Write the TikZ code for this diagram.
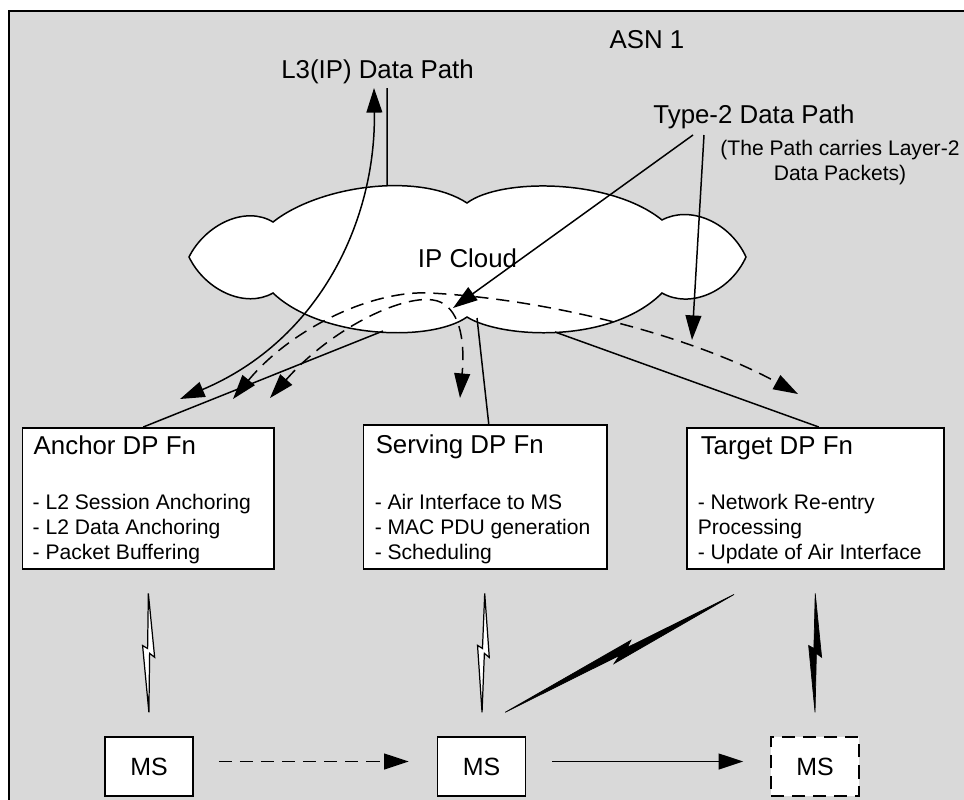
\documentclass[tikz,border=0pt]{standalone}
\usepackage{fontspec}
\setmainfont{Liberation Sans}
\usepackage{tikz}
\usetikzlibrary{arrows.meta,positioning,calc}
\definecolor{AsnGray}{HTML}{D9D9D9}
% radio link bolt: from, to, style, tip offset, notch offset
\newcommand{\radiolink}[5]{%
  \draw[#3] (#1) -- ($(#1)!0.537!(#2)!#4!90:(#2)$) -- ($(#1)!0.504!(#2)!#5!90:(#2)$)
    -- (#2) -- ($(#1)!0.438!(#2)!#4!-90:(#2)$) -- ($(#1)!0.463!(#2)!#5!-90:(#2)$) -- cycle;}

\begin{document}
\begin{tikzpicture}[x=0.2mm,y=-0.2mm,line width=0.85pt,>={Triangle[length=14pt,width=9pt]},
  big/.style={font=\fontsize{14.7}{17}\selectfont,inner sep=0pt},
  small/.style={font=\fontsize{12}{14.2}\selectfont,inner sep=0pt},
  fnbox/.style={draw,fill=white,inner sep=0pt,anchor=north west},
  msbox/.style={draw,fill=white,inner sep=0pt,minimum width=17.6mm,minimum height=11.8mm,
    font=\fontsize{14.2}{17}\selectfont},
  dashline/.style={dash pattern=on 7.5pt off 4.5pt},
  whitebolt/.style={draw,fill=white,line width=0.7pt},
  blackbolt/.style={draw,fill=black,line width=0.4pt}]
  \useasboundingbox (0,0) rectangle (964,799);
  \clip (0,0) rectangle (964,799);
  \draw[fill=AsnGray,line width=1.1pt] (9,11) rectangle (1000,840);

  % IP cloud
  \draw[fill=white] (189,257) .. controls (205,225) and (245,205) .. (273,222)
    .. controls (320,185) and (420,172) .. (467,203)
    .. controls (500,178) and (610,178) .. (662,220)
    .. controls (690,205) and (730,222) .. (746,257)
    .. controls (730,292) and (690,309) .. (662,293)
    .. controls (610,345) and (500,338) .. (467,317)
    .. controls (430,343) and (320,338) .. (273,293)
    .. controls (245,309) and (205,290) .. (189,257) -- cycle;
  \coordinate (cl-top) at (387,185);
  \coordinate (cl-b1) at (383,331);
  \coordinate (cl-b2) at (477,318);
  \coordinate (cl-b3) at (555,332);
  \node[big,anchor=base] (ipc) at (467.5,267) {IP Cloud};

  % labels
  \node[big,anchor=base] (asn) at (647,48) {ASN 1};
  \node[big,anchor=base] (l3) at (377.5,78) {L3(IP) Data Path};
  \node[big,anchor=base] (t2) at (754,123) {Type-2 Data Path};
  \node[small,anchor=base,align=center] (t2note) at (840,180) {(The Path carries Layer-2\\Data Packets)};

  % data path functions
  \node[fnbox,minimum width=50.2mm,minimum height=28.2mm] (anchor) at (22,427) {};
  \node[fnbox,minimum width=48.6mm,minimum height=28.8mm] (serving) at (363,424) {};
  \node[fnbox,minimum width=51.4mm,minimum height=28.2mm] (target) at (686,427) {};
  \node[big,anchor=base west] (anchorT) at ($(anchor.north west)+(11,27)$) {Anchor DP Fn};
  \node[big,anchor=base west] (servingT) at ($(serving.north west)+(12,29)$) {Serving DP Fn};
  \node[big,anchor=base west] (targetT) at ($(target.north west)+(14,27)$) {Target DP Fn};
  \node[small,anchor=base west,align=left] (anchorL) at ($(anchor.north west)+(10,132)$)
    {- L2 Session Anchoring\\- L2 Data Anchoring\\- Packet Buffering};
  \node[small,anchor=base west,align=left] (servingL) at ($(serving.north west)+(11,135)$)
    {- Air Interface to MS\\- MAC PDU generation\\- Scheduling};
  \node[small,anchor=base west,align=left] (targetL) at ($(target.north west)+(11,132)$)
    {- Network Re-entry\\Processing\\- Update of Air Interface};

  % mobile stations
  \node[msbox] (ms1) at (149,766.5) {MS};
  \node[msbox] (ms2) at (481.5,766.5) {MS};
  \node[msbox,dashline] (ms3) at (815,766.5) {MS};
  \draw[->,dashline,shorten <=5mm,shorten >=5.6mm] ([yshift=1mm]ms1.east) -- ([yshift=1mm]ms2.west);
  \draw[->,shorten <=5.2mm,shorten >=5.4mm] ([yshift=1mm]ms2.east) -- ([yshift=1mm]ms3.west);

  % links to the cloud
  \draw ([xshift=-1mm]anchor.north) -- (cl-b1);
  \draw ([xshift=0.7mm]serving.north) -- (cl-b2);
  \draw ([xshift=0.7mm]target.north) -- (cl-b3);
  \coordinate (l3s) at ($(l3.base)+(9.5,10)$);
  \coordinate (l3e) at ($(l3.base)+(-3.5,10)$);
  \draw (l3s) -- (cl-top);
  \coordinate (l3a) at (180,399);
  \draw[<->] (l3a) .. controls (320,340) and (376,220) .. (l3e);

  % type-2 data paths
  \coordinate (dpA1) at (233,399);
  \coordinate (dpA2) at (270,398);
  \coordinate (dpS) at (460,398);
  \coordinate (dpT) at (798,394);
  \draw[<->,dashline] (dpA1) .. controls (290,330) and (370,290) .. (430,293)
    .. controls (560,300) and (700,340) .. (dpT);
  \draw[<->,dashline] (dpA2) .. controls (330,330) and (400,295) .. (433,300)
    .. controls (455,303) and (466,330) .. (dpS);
  \coordinate (t2s1) at ($(t2.base)+(-61,12)$);
  \coordinate (t2s2) at ($(t2.base)+(-50,12)$);
  \coordinate (t2e1) at (453,308);
  \coordinate (t2e2) at (692,340);
  \draw[->] (t2s1) -- (t2e1);
  \draw[->] (t2s2) -- (t2e2);

  % radio links
  \coordinate (r1a) at ($(anchor.south)!4.8mm!(ms1.north)$);
  \coordinate (r1b) at ($(ms1.north)!4.8mm!(anchor.south)$);
  \coordinate (r2a) at ($(serving.south)!4.8mm!(ms2.north)$);
  \coordinate (r2b) at ($(ms2.north)!4.8mm!(serving.south)$);
  \coordinate (r3a) at ($(target.south)!4.8mm!(ms3.north)$);
  \coordinate (r3b) at ($(ms3.north)!4.8mm!(target.south)$);
  \coordinate (r4a) at ($(target.south west)+(48,25)$);
  \coordinate (r4b) at ($(ms2.north east)+(-21,-24)$);
  \radiolink{r1a}{r1b}{whitebolt}{1.2mm}{0.2mm}
  \radiolink{r2a}{r2b}{whitebolt}{1.2mm}{0.2mm}
  \radiolink{r3a}{r3b}{blackbolt}{1.3mm}{0.25mm}
  \radiolink{r4a}{r4b}{blackbolt}{1.3mm}{0.35mm}
\end{tikzpicture}
\end{document}
